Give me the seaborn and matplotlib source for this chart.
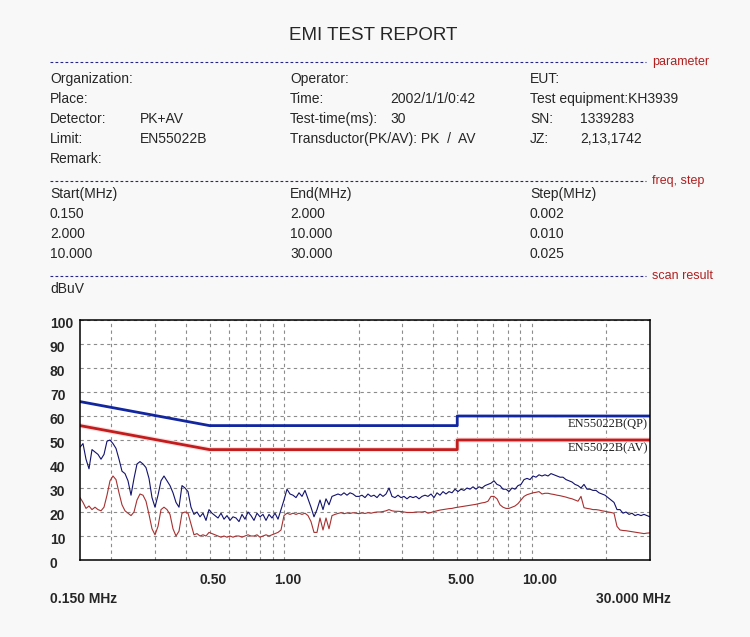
import numpy as np
import pandas as pd
import matplotlib
matplotlib.use("Agg")
import matplotlib.pyplot as plt
import matplotlib.transforms as mtrans
from matplotlib.lines import Line2D
from matplotlib.ticker import NullFormatter
import seaborn as sns

# ===== DATA =====
# scan result on an even log-frequency grid (0.150 .. 30 MHz)
pk_dbuv = [
    47, 48.5, 42, 38, 46, 45, 44, 42, 44, 49.5, 50, 48.5, 46.5, 42, 37, 36, 33, 27, 34, 40,
    41, 40, 38.5, 34, 26, 22, 27, 33, 35, 33, 31, 28, 24, 22, 31, 30, 28.5, 22, 19,
    20, 18, 19.5, 16.5, 21, 19.5, 18.5, 17.5, 19.5, 17, 18.5, 16.5, 18, 17.5, 16, 19, 17, 20,
    18.5, 16.5, 19.5, 18, 19, 16.5, 19, 17.5, 19.5, 17, 21, 25, 29.5, 27.5, 27, 26, 28, 26.5,
    29, 25.5, 22,
    18, 21, 25, 21, 25.5, 23, 26.5, 27, 27.5, 27, 28, 27, 28, 27.5, 26.5, 26.5, 27, 26, 27.5,
    26.5, 27, 26, 27.5, 26.5, 27.5, 30, 26.5, 26, 27, 26, 26.5, 25.5, 26.5, 26, 26.5, 25.5,
    26.5, 27,
    26.5, 27.5, 26, 28, 27, 28.5, 27.5, 28.5, 28, 29.5, 28.5, 29.5, 29, 30, 29.5, 30.5, 29.5,
    30.5, 30, 31, 31.5, 32, 33, 31.5, 31, 29.5, 29.5, 28.5, 30, 29.5, 31, 31.5, 33.5, 34, 33.5,
    35, 34.5, 35.5,
    35, 35.5, 35, 36, 35.5, 35, 34.5, 34.5, 33.5, 33, 32.5, 31.5, 31, 30, 31.5, 29.5, 29.5, 29,
    29, 28, 27.5, 27, 26, 25, 24, 21, 21, 19.5, 20, 19, 19.5, 18.5, 19, 18.5, 19, 18.5, 18,
]
av_dbuv = [
    26, 24, 21.5, 22.5, 21, 22, 21, 20.5, 22, 27, 33, 35, 33.5, 28, 23, 20.5, 19.5, 18.5, 20, 25,
    27.5, 27, 24.5, 19, 13, 10.5, 14, 21, 22, 21, 19, 13, 10, 12, 19.5, 20, 19.5, 15, 10.5,
    11, 10, 10.5, 10, 11.5, 11, 10.5, 10, 9.5, 10, 9.5, 10, 9.5, 10, 10, 9.5, 10, 10.5, 10, 10,
    10.5, 9.5, 10, 10.5, 10, 10.5, 11, 11.5, 12.5, 18.5, 19.5, 19, 19.5, 19, 19.5, 19, 19.5,
    18.5, 16,
    11.5, 11.5, 17.5, 12.5, 17.5, 13, 18.5, 19, 19.4, 19.7, 19.3, 19.6, 19.4, 19.7, 19.5, 19.3,
    19.6, 19.4, 19.7, 19.5, 19.8, 20, 20, 20.2, 20.5, 21, 20.5, 20.3, 20.3, 20.2, 20, 19.8,
    19.8, 19.8, 20, 20, 20, 20.2,
    19.5, 19.8, 20.2, 20.5, 20.8, 21, 21.2, 21.4, 21.5, 21.8, 22, 22.2, 22.4, 22.6, 22.8, 23,
    23.2, 23.5, 23.8, 24, 24.5, 26.5, 26.5, 25.5, 23, 22, 21.5, 21.5, 22, 22.5, 23.5, 25, 26.5,
    27.2, 27.6, 28, 28.2, 28.5,
    27.5, 27.8, 27.8, 27.5, 27.3, 27, 26.8, 26.5, 26.2, 25.8, 25.5, 25, 24.5, 26.5, 21.8, 21.5,
    21.3, 21, 21, 20.8, 20.5, 20.3, 20, 19.8, 19.5, 14, 12.5, 12.3, 12.2, 12, 11.8, 11.6, 11.4,
    11.2, 11, 11.2, 11.3,
]
freq_start, freq_stop = 0.150, 30.0

# EN55022 class B limits
lim_freq = [0.15, 0.5, 5, 5, 30]
lim_qp = [66, 56, 56, 60, 60]
lim_av = [56, 46, 46, 50, 50]

y_ticks = list(range(0, 101, 10))
x_ticks = [0.5, 1, 5, 10]
x_tick_labels = ["0.50", "1.00", "5.00", "10.00"]

# header
params = [
    ("Organization:", "", "Operator:", "", "EUT:", ""),
    ("Place:", "", "Time:", "2002/1/1/0:42", "Test equipment:KH3939", ""),
    ("Detector:", "PK+AV", "Test-time(ms):", "30", "SN:", "1339283"),
    ("Limit:", "EN55022B", "Transductor(PK/AV): PK  /  AV", "", "JZ:", "2,13,1742"),
    ("Remark:", "", "", "", "", ""),
]
steps = [
    ("Start(MHz)", "End(MHz)", "Step(MHz)"),
    ("0.150", "2.000", "0.002"),
    ("2.000", "10.000", "0.010"),
    ("10.000", "30.000", "0.025"),
]

scan = pd.DataFrame({
    "freq": np.geomspace(freq_start, freq_stop, len(pk_dbuv)),
    "pk": pk_dbuv,
    "av": av_dbuv,
})
limits = pd.DataFrame({"freq": lim_freq, "qp": lim_qp, "av": lim_av})

# ===== STYLE =====
sns.set_style("white")
plt.rcParams["font.family"] = ["Liberation Sans", "DejaVu Sans"]

W, H = 750, 637
fig = plt.figure(figsize=(W / 100, H / 100), dpi=100, facecolor="#f8f8f8")


def fx(x):
    return x / W


def fy(y):
    return 1 - y / H


# ===== HEADER =====
fig.text(fx(373), fy(40), "EMI TEST REPORT", ha="center", va="baseline", fontsize=13.5)

sep_col = "#25258a"
for y, name in [(62, "parameter"), (181, "freq, step"), (276, "scan result")]:
    fig.add_artist(Line2D([fx(50), fx(646)], [fy(y), fy(y)], transform=fig.transFigure,
                          color=sep_col, lw=0.8, linestyle=(0, (2.5, 2))))
    fig.text(fx(652), fy(y + 3.5), name, ha="left", va="baseline", fontsize=9, color="#b02020")

col_x = [50, 140, 290, 390, 530, 580]
for i, row in enumerate(params):
    base = 83 + 20 * i
    for x, s in zip(col_x, row):
        if s:
            fig.text(fx(x), fy(base), s, ha="left", va="baseline", fontsize=10)

for i, row in enumerate(steps):
    base = 198 + 20 * i
    for x, s in zip([50, 290, 530], row):
        fig.text(fx(x), fy(base), s, ha="left", va="baseline", fontsize=10)

fig.text(fx(50), fy(293), "dBuV", ha="left", va="baseline", fontsize=10)

# ===== CHART =====
ax = fig.add_axes([fx(80), fy(560), 570 / W, 240 / H])
ax.set_facecolor("white")
ax.set_xscale("log")

sns.lineplot(data=limits, x="freq", y="av", ax=ax, color="#f7dede", lw=3.6,
             estimator=None, sort=False, legend=False)
sns.lineplot(data=limits, x="freq", y="qp", ax=ax, color="#1226a0", lw=2.0,
             estimator=None, sort=False, legend=False)
sns.lineplot(data=limits, x="freq", y="av", ax=ax, color="#c41c1c", lw=2.0,
             estimator=None, sort=False, legend=False)
sns.lineplot(data=scan, x="freq", y="pk", ax=ax, color="#12126e", lw=0.8,
             estimator=None, sort=False, legend=False)
sns.lineplot(data=scan, x="freq", y="av", ax=ax, color="#a83030", lw=0.8,
             estimator=None, sort=False, legend=False)

ax.set_xlim(freq_start, freq_stop)
ax.set_ylim(0, 100)
ax.set_xlabel("")
ax.set_ylabel("")

ax.set_yticks(y_ticks, [str(v) for v in y_ticks], ha="left", fontweight="bold", fontsize=10)
ax.set_xticks(x_ticks, x_tick_labels, ha="left", fontweight="bold", fontsize=10)
ax.xaxis.set_minor_formatter(NullFormatter())
ax.tick_params(axis="y", which="both", length=0, pad=21.6)
ax.tick_params(axis="x", which="both", length=0, pad=9)

y_off = mtrans.ScaledTranslation(0, -3 / 100, fig.dpi_scale_trans)
for lbl in ax.get_yticklabels():
    lbl.set_transform(lbl.get_transform() + y_off)
x_off = mtrans.ScaledTranslation(-10 / 100, 0, fig.dpi_scale_trans)
for lbl in ax.get_xticklabels():
    lbl.set_transform(lbl.get_transform() + x_off)

grid_kw = dict(color="#8c8c8c", lw=0.8, linestyle=(0, (3, 3)))
ax.grid(True, which="both", axis="x", **grid_kw)
ax.grid(True, which="major", axis="y", **grid_kw)
ax.set_axisbelow(True)

for sp in ax.spines.values():
    sp.set_color("black")
    sp.set_linewidth(1.1)

blend = mtrans.blended_transform_factory(ax.transAxes, ax.transData)
ax.text(0.9965, lim_qp[-1] - 3.3, "EN55022B(QP)", transform=blend, ha="right", va="center",
        fontsize=9, family=["Liberation Serif", "DejaVu Serif"], color="#222222")
ax.text(0.9965, lim_av[-1] - 3.3, "EN55022B(AV)", transform=blend, ha="right", va="center",
        fontsize=9, family=["Liberation Serif", "DejaVu Serif"], color="#222222")

fig.text(fx(50), fy(603), "0.150 MHz", ha="left", va="baseline", fontsize=10, fontweight="bold")
fig.text(fx(596), fy(603), "30.000 MHz", ha="left", va="baseline", fontsize=10, fontweight="bold")

fig.savefig("out.png", dpi=100, facecolor=fig.get_facecolor())
plt.close(fig)
